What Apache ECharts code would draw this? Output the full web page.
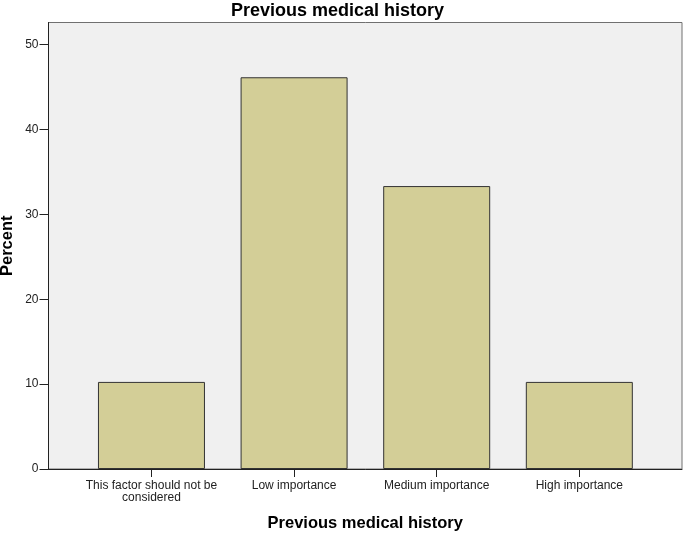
<!DOCTYPE html>
<html><head><meta charset="utf-8">
<script src="https://cdn.jsdelivr.net/npm/echarts@6/dist/echarts.min.js"></script>
<style>html,body{margin:0;padding:0;background:#fff}#c{width:685px;height:534px}</style>
</head><body><div id="c"></div>
<script>
const categories = ["This factor should not be\nconsidered", "Low importance", "Medium importance", "High importance"];
const percentValues = [10.26, 46.15, 33.33, 10.26];
const yTicks = [0, 10, 20, 30, 40, 50];
const titleText = "Previous medical history";
const xName = "Previous medical history";
const yName = "Percent";

const chart = echarts.init(document.getElementById('c'));
const font = 'Arial, "Liberation Sans", sans-serif';
chart.setOption({
  animation: false,
  title: { text: titleText, left: 226, top: -3,
    textStyle: { fontFamily: font, fontSize: 18, fontWeight: 'bold', color: '#000' } },
  grid: { left: 48.5, right: 3, top: 22.5, bottom: 65, show: true, outerBoundsMode: 'none', containLabel: false,
    backgroundColor: '#F0F0F0', borderColor: '#707070', borderWidth: 1 },
  xAxis: {
    type: 'value', min: -0.722, max: 3.72,
    name: xName, nameLocation: 'middle', nameGap: 46, nameMoveOverlap: false,
    nameTextStyle: { fontFamily: font, fontSize: 16.5, fontWeight: 'bold', color: '#000' },
    axisLine: { show: true, onZero: false, lineStyle: { color: '#222', width: 1 } },
    axisTick: { show: true, length: 8, customValues: [0,1,2,3], lineStyle: { color: '#222' } },
    axisLabel: { customValues: [0,1,2,3], fontFamily: font, fontSize: 12, color: '#222', margin: 11, lineHeight: 12,
      formatter: v => categories[Math.round(v)] || '' },
    splitLine: { show: false }
  },
  yAxis: {
    type: 'value', min: 0, max: 52.6,
    name: yName, nameLocation: 'middle', nameGap: 33, nameRotate: 90, nameMoveOverlap: false,
    nameTextStyle: { fontFamily: font, fontSize: 16.5, fontWeight: 'bold', color: '#000' },
    axisLine: { show: true, onZero: false, lineStyle: { color: '#222', width: 1 } },
    axisTick: { show: true, length: 9, customValues: yTicks, lineStyle: { color: '#222' } },
    axisLabel: { customValues: yTicks, fontFamily: font, fontSize: 12, color: '#222', margin: 10 },
    splitLine: { show: false }
  },
  series: [{
    type: 'bar', barWidth: 107,
    data: percentValues.map((v, i) => [i, v]),
    itemStyle: { color: '#D3CE97', borderColor: '#333', borderWidth: 1 }
  }]
});
</script></body></html>
